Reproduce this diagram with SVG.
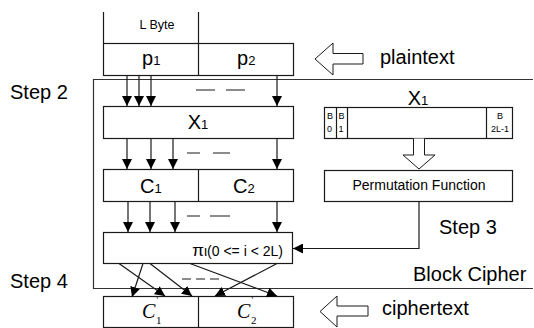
<svg xmlns="http://www.w3.org/2000/svg" width="534" height="328" viewBox="0 0 534 328">
<style>
.box{fill:#fff;stroke:#1a1a1a;stroke-width:1.2}
.ln{fill:none;stroke:#1a1a1a;stroke-width:1.2}
.frame{fill:none;stroke:#333;stroke-width:1.2}
.hol{fill:#fff;stroke:#1a1a1a;stroke-width:1}
.t{font-family:"Liberation Sans",Arial,sans-serif;fill:#000}
.ti{font-family:"Liberation Serif","Times New Roman",serif;fill:#000}
.dash{fill:none;stroke:#1a1a1a;stroke-width:1.2}
</style>
<defs>
<marker id="ah" markerUnits="userSpaceOnUse" markerWidth="10" markerHeight="10" refX="10" refY="5" orient="auto">
<path d="M0,0 L10,5 L0,10 z" fill="#000"/>
</marker>
</defs>

<g id="frame">
<path class="frame" d="M533,79.5 H93.5 V288.5 H533"/>
</g>

<g id="lbyte">
<path class="ln" d="M103.5,12 V43 M198.5,12 V43"/>
<text class="t" x="157" y="29" font-size="12.5" text-anchor="middle">L Byte</text>
</g>

<g id="plain">
<rect class="box" x="103.5" y="43.5" width="190" height="32"/>
<line class="ln" x1="198.5" y1="43.5" x2="198.5" y2="75.5"/>
<text class="t" x="142" y="65" font-size="20">p<tspan font-size="13">1</tspan></text>
<text class="t" x="237" y="65" font-size="20">p<tspan font-size="13">2</tspan></text>
</g>

<g id="x1">
<rect class="box" x="103.5" y="106.5" width="190" height="32"/>
<text class="t" x="198" y="129" font-size="20" text-anchor="middle">X<tspan font-size="13">1</tspan></text>
</g>

<g id="c">
<rect class="box" x="103.5" y="169.5" width="190" height="32"/>
<line class="ln" x1="198.5" y1="169.5" x2="198.5" y2="201.5"/>
<text class="t" x="140" y="193" font-size="20">C<tspan font-size="13">1</tspan></text>
<text class="t" x="233" y="193" font-size="20">C<tspan font-size="13">2</tspan></text>
</g>

<g id="pi">
<rect class="box" x="103.5" y="232.5" width="189" height="31"/>
<text class="t" x="283" y="256" font-size="14" text-anchor="end"><tspan font-size="17">π</tspan>ι(0 &lt;= i &lt; 2L)</text>
</g>

<g id="cprime">
<rect class="box" x="103.5" y="296.5" width="190" height="31"/>
<line class="ln" x1="198.5" y1="296.5" x2="198.5" y2="327.5"/>
<text class="ti" x="142" y="318" font-size="20" font-style="italic">C</text>
<text class="ti" x="156.5" y="303" font-size="9">'</text>
<text class="ti" x="156" y="324" font-size="11">1</text>
<text class="ti" x="237" y="318" font-size="20" font-style="italic">C</text>
<text class="ti" x="251.5" y="303" font-size="9">'</text>
<text class="ti" x="251" y="324" font-size="11">2</text>
</g>

<g id="bytes">
<text class="t" x="418" y="105" font-size="20" text-anchor="middle">X<tspan font-size="13">1</tspan></text>
<rect class="box" x="324.5" y="107.5" width="188" height="31"/>
<path class="ln" d="M336.5,107.5 V138.5 M347.5,107.5 V138.5 M486.5,107.5 V138.5"/>
<text class="t" x="327" y="119" font-size="9">B</text>
<text class="t" x="327" y="132" font-size="9">0</text>
<text class="t" x="338.5" y="119" font-size="9">B</text>
<text class="t" x="338.5" y="132" font-size="9">1</text>
<text class="t" x="500" y="119" font-size="9" text-anchor="middle">B</text>
<text class="t" x="500" y="132" font-size="9" text-anchor="middle">2L-1</text>
</g>

<g id="perm">
<rect class="box" x="324.5" y="170.5" width="188" height="31"/>
<text class="t" x="419" y="190" font-size="14" text-anchor="middle">Permutation Function</text>
</g>

<g id="labels">
<text class="t" x="10" y="99" font-size="20">Step 2</text>
<text class="t" x="439" y="234" font-size="20">Step 3</text>
<text class="t" x="10" y="288" font-size="20">Step 4</text>
<text class="t" x="413" y="281" font-size="20">Block Cipher</text>
<text class="t" x="380" y="64" font-size="20">plaintext</text>
<text class="t" x="382" y="315" font-size="20">ciphertext</text>
</g>

<g id="connectors">
<path class="hol" d="M315,59 L333,43 V53.5 H363 V64 H333 V75 Z"/>
<path class="hol" d="M320,311.5 L337,296 V306 H368 V316 H337 V327 Z"/>
<path class="hol" d="M413.5,138.5 V155 H403 L419,169 L435,155 H424.5 V138.5"/>
<g class="ln" marker-end="url(#ah)">
<line x1="127" y1="75.5" x2="127" y2="106"/>
<line x1="139" y1="75.5" x2="139" y2="106"/>
<line x1="151" y1="75.5" x2="151" y2="106"/>
<line x1="277" y1="75.5" x2="277" y2="106"/>
<line x1="127" y1="138.5" x2="127" y2="169"/>
<line x1="151" y1="138.5" x2="151" y2="169"/>
<line x1="173" y1="138.5" x2="173" y2="169"/>
<line x1="277" y1="138.5" x2="277" y2="169"/>
<line x1="128" y1="201.5" x2="128" y2="232"/>
<line x1="150" y1="201.5" x2="150" y2="232"/>
<line x1="175" y1="201.5" x2="175" y2="232"/>
<line x1="277" y1="201.5" x2="277" y2="232"/>
<line x1="119" y1="263.5" x2="165" y2="296"/>
<line x1="143" y1="263.5" x2="132" y2="297"/>
<line x1="150" y1="263.5" x2="192" y2="296"/>
<line x1="190" y1="263.5" x2="277" y2="296"/>
<line x1="277" y1="263.5" x2="215" y2="296"/>
<path d="M419,201.5 V248.5 H293"/>
</g>
<path class="dash" d="M196,90 H215 M226,90 H245"/>
<path class="dash" d="M187,153 H200 M213,153 H230"/>
<path class="dash" d="M187,216 H200 M210,216 H230"/>
<path class="dash" d="M182,279 H223" stroke-dasharray="9,5"/>
</g>
</svg>
